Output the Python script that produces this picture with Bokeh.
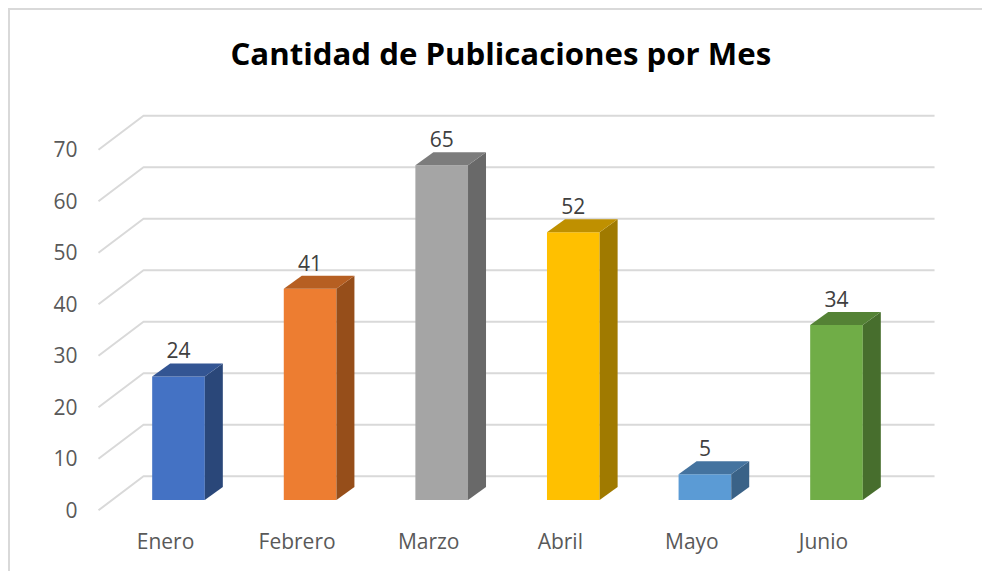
from bokeh.plotting import figure
from bokeh.embed import file_html
from bokeh.resources import INLINE
from bokeh.models import Range1d, LinearAxis, FixedTicker, ColumnDataSource
from bokeh.core.properties import value

title_text = "Cantidad de Publicaciones por Mes"
months = ["Enero", "Febrero", "Marzo", "Abril", "Mayo", "Junio"]
counts = [24, 41, 65, 52, 5, 34]
front_colors = ["#4472c4", "#ed7d31", "#a5a5a5", "#ffc000", "#5b9bd5", "#70ad47"]
top_colors = ["#335593", "#b65f22", "#7c7c7c", "#bf9000", "#44739f", "#548235"]
side_colors = ["#2a4779", "#964e1a", "#696969", "#a07a00", "#3a6287", "#476e2d"]
y_ticks = [0, 10, 20, 30, 40, 50, 60, 70]

FONT = "Open Sans"
BAR_W = 0.4
DX, DY = 0.1368, 2.52       # bar depth
WALL_DX, WALL_DY = 0.342, 6.6
FLOOR_Y = -2.0              # front edge of the floor, relative to a bar's base
LEFT, RIGHT = -0.608, 5.745

# page geometry of the figure's canvas
OX, OY = 10, 10             # canvas origin on the page (css margin + 2px css border)
W, H = 974, 563             # figure size
TOP = 70                    # frame top inside the canvas
PX_X, PX_Y = 131.6, 5.15    # pixels per category, per unit
BAR0_X, BASE_Y = 178, 499.5 # page position of first bar centre and bars' base

def xr(shift=0):
    return Range1d((OX - BAR0_X - shift) / PX_X, (OX + W - BAR0_X - shift) / PX_X)
def yr(shift=0):
    return Range1d((BASE_Y + shift - (OY + H)) / PX_Y, (BASE_Y + shift - (OY + TOP)) / PX_Y)

p = figure(width=W, height=H, output_backend="svg", toolbar_location=None,
           x_range=xr(), y_range=yr(),
           min_border_left=0, min_border_right=0, min_border_bottom=0, min_border_top=TOP,
           x_axis_type=None, y_axis_type=None, title=title_text)
p.styles = {"margin-top": "8px", "margin-left": "8px",
            "border-top": "2px solid #d9d9d9", "border-left": "2px solid #d9d9d9"}
p.grid.visible = False
p.outline_line_color = None
p.background_fill_color = "white"

p.title.text_font = FONT
p.title.text_font_size = "31.2px"
p.title.text_font_style = "bold"
p.title.text_color = "#000000"
p.title.align = "left"
p.title.offset = 220
p.title.standoff = 13

p.extra_y_ranges["tick"] = yr(9.5)
p.extra_x_ranges["month"] = xr(-13)

yax = LinearAxis(y_range_name="tick", ticker=FixedTicker(ticks=y_ticks), fixed_location=-0.714)
xax = LinearAxis(x_range_name="month", ticker=FixedTicker(ticks=list(range(len(months)))),
                 major_label_overrides={i: m for i, m in enumerate(months)}, fixed_location=-4.15)
for ax in (xax, yax):
    ax.axis_line_color = None
    ax.major_tick_line_color = None
    ax.minor_tick_line_color = None
    ax.major_label_text_font = FONT
    ax.major_label_text_font_size = "21px"
    ax.major_label_text_color = "#595959"
yax.major_label_standoff = 1
xax.major_label_standoff = 0
p.add_layout(yax, "left")
p.add_layout(xax, "below")

# 3-D wall grid: side segment then the back wall
back = [t + FLOOR_Y + WALL_DY for t in y_ticks]
front = [t + FLOOR_Y for t in y_ticks]
p.multi_line(xs=[[LEFT, LEFT + WALL_DX, RIGHT] for _ in y_ticks],
             ys=[[f, b, b] for f, b in zip(front, back)],
             line_color="#d9d9d9", line_width=2)

xs = list(range(len(months)))
p.vbar(x=xs, top=counts, bottom=0, width=BAR_W, fill_color=front_colors, line_color=None)
p.patches(xs=[[x + BAR_W / 2, x + BAR_W / 2 + DX, x + BAR_W / 2 + DX, x + BAR_W / 2] for x in xs],
          ys=[[0, DY, v + DY, v] for v in counts],
          fill_color=side_colors, line_color=None)
p.patches(xs=[[x - BAR_W / 2, x - BAR_W / 2 + DX, x + BAR_W / 2 + DX, x + BAR_W / 2] for x in xs],
          ys=[[v, v + DY, v + DY, v] for v in counts],
          fill_color=top_colors, line_color=None)

src = ColumnDataSource(dict(x=xs, y=counts, t=[str(v) for v in counts]))
p.text(x="x", y="y", text="t", source=src, y_offset=-26, text_align="center",
       text_baseline="middle", text_font=value(FONT), text_font_size="21px", text_color="#404040")

open("out.html", "w").write(file_html(p, INLINE))
